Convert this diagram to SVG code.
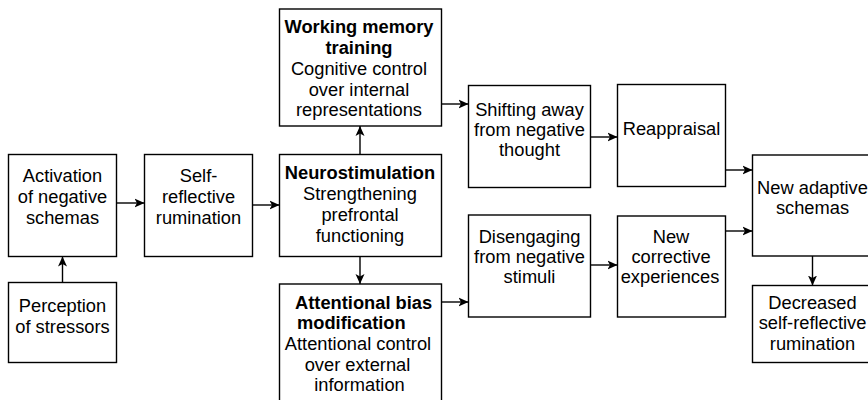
<svg xmlns="http://www.w3.org/2000/svg" width="868" height="400" viewBox="0 0 868 400">
<style>
rect.box { fill: #fff; stroke: #000; stroke-width: 1.4; }
text { font-family: "Liberation Sans", Arial, Helvetica, sans-serif; font-size: 18.3px; fill: #000; text-anchor: middle; }
text.b { font-weight: bold; }
text.s { text-anchor: start; }
.conn path { fill: none; stroke: #000; stroke-width: 1.4; }
</style>
<defs>
<marker id="arr" markerUnits="userSpaceOnUse" markerWidth="12" markerHeight="10" refX="10" refY="5" orient="auto">
<path d="M0,0.5 L10,5 L0,9.5 L2.5,5 Z" fill="#000"/>
</marker>
</defs>
<rect width="868" height="400" fill="#fff"/>

<g id="activation">
<rect class="box" x="8.5" y="154.5" width="108" height="102"/>
<text x="62.5" y="182">Activation</text>
<text x="62.5" y="203">of negative</text>
<text x="62.5" y="224">schemas</text>
</g>

<g id="perception">
<rect class="box" x="8.5" y="282.5" width="108" height="80"/>
<text x="62.5" y="312">Perception</text>
<text x="62.5" y="333">of stressors</text>
</g>

<g id="self-reflective">
<rect class="box" x="144.5" y="154.5" width="108" height="102"/>
<text x="198.5" y="182">Self-</text>
<text x="198.5" y="203">reflective</text>
<text x="198.5" y="224">rumination</text>
</g>

<g id="working-memory">
<rect class="box" x="279.5" y="9" width="162" height="117"/>
<text x="359" y="32.5" class="b">Working memory</text>
<text x="359" y="53.5" class="b">training</text>
<text x="359" y="74.5">Cognitive control</text>
<text x="359" y="95.5">over internal</text>
<text x="359" y="116">representations</text>
</g>

<g id="neurostimulation">
<rect class="box" x="279.5" y="154.5" width="162" height="102"/>
<text x="360" y="179" class="b">Neurostimulation</text>
<text x="360" y="200">Strengthening</text>
<text x="360" y="221">prefrontal</text>
<text x="360" y="241.5">functioning</text>
</g>

<g id="attentional-bias">
<rect class="box" x="279.5" y="284" width="162" height="120"/>
<text x="295" y="308.5" class="b s">Attentional bias</text>
<text x="297" y="329" class="b s">modification</text>
<text x="358" y="350">Attentional control</text>
<text x="357.5" y="370.5">over external</text>
<text x="359.5" y="391">information</text>
</g>

<g id="shifting">
<rect class="box" x="468.5" y="85.5" width="122" height="102"/>
<text x="529.5" y="115.5">Shifting away</text>
<text x="529.5" y="135.5">from negative</text>
<text x="529.5" y="156">thought</text>
</g>

<g id="disengaging">
<rect class="box" x="468.5" y="215" width="122" height="102"/>
<text x="529.5" y="242.5">Disengaging</text>
<text x="529.5" y="262.5">from negative</text>
<text x="529.5" y="283">stimuli</text>
</g>

<g id="reappraisal">
<rect class="box" x="617.5" y="84.5" width="108" height="102"/>
<text x="671.5" y="134.5">Reappraisal</text>
</g>

<g id="corrective">
<rect class="box" x="617.5" y="216" width="108" height="101"/>
<text x="671" y="242.5">New</text>
<text x="671" y="262.5">corrective</text>
<text x="670" y="282.5">experiences</text>
</g>

<g id="adaptive">
<rect class="box" x="752.5" y="155" width="120" height="101"/>
<text x="812.5" y="193.5">New adaptive</text>
<text x="812.5" y="214">schemas</text>
</g>

<g id="decreased">
<rect class="box" x="752.5" y="285.5" width="120" height="77"/>
<text x="812.5" y="308.5">Decreased</text>
<text x="812.5" y="329">self-reflective</text>
<text x="812.5" y="349.5">rumination</text>
</g>

<g class="conn" id="connectors">
<path d="M116.5,203 H144.5" marker-end="url(#arr)"/>
<path d="M252.5,205 H279.5" marker-end="url(#arr)"/>
<path d="M62.5,282.5 V256.5" marker-end="url(#arr)"/>
<path d="M360,154.5 V126" marker-end="url(#arr)"/>
<path d="M360,256.5 V284" marker-end="url(#arr)"/>
<path d="M441.5,104 H468.5" marker-end="url(#arr)"/>
<path d="M441.5,302 H468.5" marker-end="url(#arr)"/>
<path d="M590.5,137 H617.5" marker-end="url(#arr)"/>
<path d="M590.5,265 H617.5" marker-end="url(#arr)"/>
<path d="M725.5,170 H752.5" marker-end="url(#arr)"/>
<path d="M725.5,231 H752.5" marker-end="url(#arr)"/>
<path d="M812.5,256 V285.5" marker-end="url(#arr)"/>
</g>
</svg>
